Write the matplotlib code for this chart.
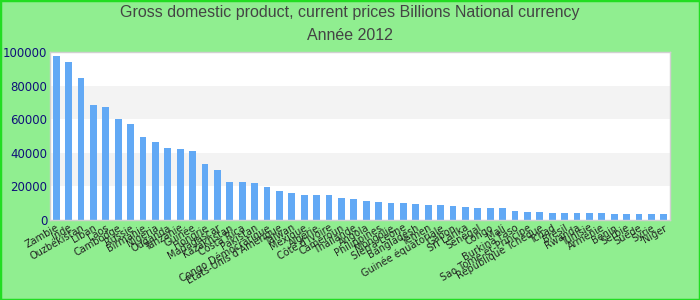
import matplotlib
matplotlib.use('Agg')
import matplotlib.pyplot as plt
import numpy as np

# ---------------------------------------------------------------------------
# Data
# ---------------------------------------------------------------------------
countries = [
    'Zambie', 'Inde', 'Ouzbékistan', 'Liban', 'Laos', 'Cambodge', 'Russie',
    'Birmanie', 'Nigeria', 'Ouganda', 'Tanzanie', 'Guinée', 'Hongrie',
    'Madagascar', 'Kazakhstan', 'Costa Rica', 'Pakistan',
    'Congo Démocratique', "Etats-Unis d'Amérique", 'Taïwan', 'Mexique',
    'Algérie', "Côte d'Ivoire", 'Cameroun', 'Thaïlande', 'Angola',
    'Philippines', 'Mongolie', 'Sierra Leone', 'Bangladesh', 'Yémen',
    'Guinée équatoriale', 'Gabon', 'Sri Lanka', 'Sénégal', 'Congo', 'Mali',
    'Burkina Faso', 'Sao Tomé-et-Principe', 'République Tchèque', 'Tchad',
    'Brésil', 'Rwanda', 'Tunisie', 'Arménie', 'Bénin', 'Serbie', 'Suède',
    'Syrie', 'Niger',
]
gdp = [
    97400, 93900, 84400, 68300, 67100, 60000, 57000, 49300, 46300, 42800,
    42200, 41000, 33300, 29700, 22600, 22600, 22000, 19600, 17200, 16000,
    14900, 14900, 14900, 13100, 12500, 11300, 10700, 10100, 10100, 9500,
    8900, 8900, 8300, 7700, 7100, 7100, 7100, 5300, 4750, 4750,
    4150, 4150, 4150, 4150, 4150, 3560, 3560, 3560, 3560, 3560,
]
yticks = [0, 20000, 40000, 60000, 80000, 100000]

BG = '#90ee90'
BAR = '#62a9f5'
TITLE_FONT = ['Liberation Sans', 'DejaVu Sans']

fig = plt.figure(figsize=(7, 3), dpi=100, facecolor=BG)
fig.patches.append(plt.Rectangle((0, 0), 1, 1, transform=fig.transFigure,
                                 fill=False, ec='#22dd22', lw=2.5))

ax = fig.add_axes([50 / 700, 1 - 220 / 300, 620 / 700, 168 / 300])
ax.set_facecolor('white')

# alternating grey bands
for lo in (20000, 60000):
    ax.axhspan(lo, lo + 20000, color='#f3f3f3', zorder=0, lw=0)

x = np.arange(len(countries))
ax.bar(x, gdp, width=0.56, color=BAR, zorder=2)

ax.set_xlim(-0.5, len(countries) - 0.5)
ax.set_ylim(0, 100000)
ax.set_yticks(yticks)
ax.set_yticklabels([str(v) for v in yticks], color='#10107a', fontsize=8.5)
ax.set_xticks(x)
ax.set_xticklabels(countries, rotation=30, ha='right', rotation_mode='anchor',
                   fontsize=7, color='#222222')
ax.tick_params(axis='both', length=0, pad=2)

for s in ax.spines.values():
    s.set_color('#d0d0d0')
    s.set_linewidth(1)

fig.text(0.5, 1 - 13 / 300,
         'Gross domestic product, current prices Billions National currency',
         ha='center', va='center', fontsize=11.5, color='#444444',
         family=TITLE_FONT)
fig.text(0.5, 1 - 36 / 300, 'Année 2012', ha='center', va='center',
         fontsize=11.5, color='#444444', family=TITLE_FONT)

fig.savefig('out.png', dpi=100, facecolor=BG)
